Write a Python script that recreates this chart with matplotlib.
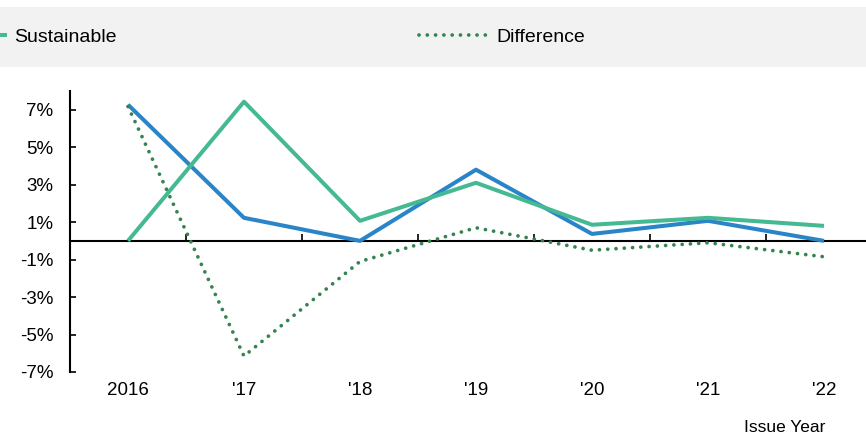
import matplotlib
matplotlib.use("Agg")
import matplotlib.pyplot as plt
from matplotlib.patches import Rectangle

plt.rcParams['font.family'] = ['Liberation Sans', 'DejaVu Sans']

years = ["2016", "'17", "'18", "'19", "'20", "'21", "'22"]
conventional = [7.27, 1.23, 0.0, 3.8, 0.37, 1.07, 0.0]
sustainable = [0.0, 7.43, 1.07, 3.1, 0.86, 1.23, 0.8]
difference = [7.17, -6.15, -1.1, 0.7, -0.5, -0.1, -0.85]
yticks = [-7, -5, -3, -1, 1, 3, 5, 7]

W, H = 866, 437
fig = plt.figure(figsize=(W / 100, H / 100), dpi=100)

# grey legend band
fig.patches.append(Rectangle((0, 1 - 67 / H), 1, 60 / H, transform=fig.transFigure,
                             facecolor='#f2f2f2', edgecolor='none', zorder=0))

ax = fig.add_axes([70 / W, 65 / H, 812 / W, (372 - 91) / H])
x = list(range(len(years)))
l1, = ax.plot(x, conventional, color='#2a84c8', lw=2.9, label='Conventional', solid_capstyle='butt')
l2, = ax.plot(x, sustainable, color='#45ba92', lw=2.9, label='Sustainable', solid_capstyle='butt')
l3, = ax.plot(x, difference, color='#35844f', lw=2.7, linestyle=(0, (0.01, 2.2)),
              dash_capstyle='round', label='Difference')

ax.set_xlim(-0.5, len(years) - 0.5)
ax.set_ylim(-7, 8)
ax.set_yticks(yticks)
ax.set_yticklabels([f"{v}%" for v in yticks])
ax.set_xticks(x)
ax.set_xticklabels(years)
ax.tick_params(axis='x', length=0, pad=7, labelsize=13.5)
ax.tick_params(axis='y', direction='in', length=4, width=1.2, labelsize=13.5, pad=12)
for s in ['top', 'right', 'bottom']:
    ax.spines[s].set_visible(False)
ax.spines['left'].set_linewidth(1.5)
ax.spines['left'].set_bounds(-7, 8)

# zero line with boundary ticks
sec = ax.secondary_xaxis(7 / 15)
sec.set_xticks([i + 0.5 for i in range(len(years) - 1)])
sec.set_xticklabels([])
sec.tick_params(axis='x', direction='in', length=5, width=1.2)
sec.spines['bottom'].set_linewidth(1.5)

fig.text(785 / W, 1 - 427 / H, 'Issue Year', ha='center', va='center', fontsize=12.5)

leg = fig.legend(handles=[l1, l2, l3], loc='center right', ncol=3,
                 bbox_to_anchor=(585 / W, 1 - 37 / H), frameon=False,
                 fontsize=14, handlelength=3.6, handletextpad=0.36,
                 columnspacing=15.55, borderpad=0, borderaxespad=0)

fig.savefig('out.png', dpi=100)
